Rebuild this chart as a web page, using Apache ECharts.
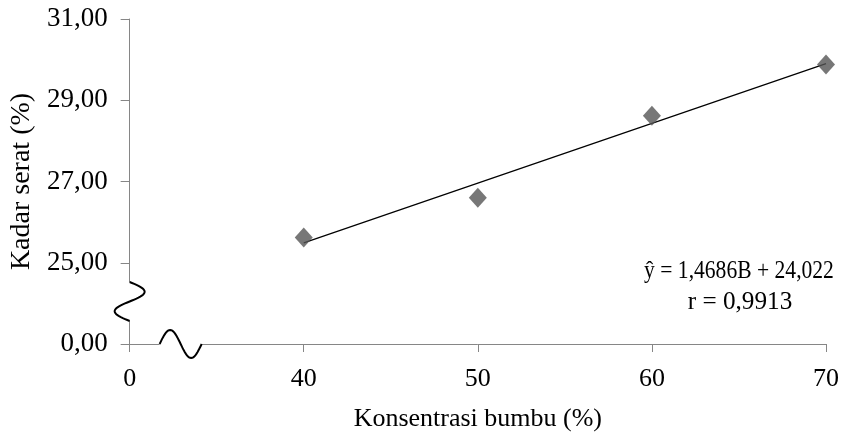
<!DOCTYPE html>
<html><head><meta charset="utf-8">
<script src="https://cdn.jsdelivr.net/npm/echarts@6/dist/echarts.min.js"></script>
<style>html,body{margin:0;padding:0;background:#fff}#c{width:844px;height:437px}</style>
</head><body><div id="c"></div>
<script>
// Data
const concentrations = [40, 50, 60, 70];
const fiberContent = [25.62, 26.60, 28.62, 29.88];
const trendX = [40, 70];
const trendY = [25.49, 29.90];
const xTickLabels = {30: '0', 40: '40', 50: '50', 60: '60', 70: '70'};
const yTickLabels = {23: '0,00', 25: '25,00', 27: '27,00', 29: '29,00', 31: '31,00'};
const equationLine = 'ŷ = 1,4686B + 24,022';
const rLine = 'r = 0,9913';
const xAxisTitle = 'Konsentrasi bumbu (%)';
const yAxisTitle = 'Kadar serat (%)';

const FONT = 'Liberation Serif';
const AXIS = '#868686';

const chart = echarts.init(document.getElementById('c'), null, {renderer: 'canvas'});
chart.setOption({
  animation: false,
  backgroundColor: '#fff',
  grid: {left: 127, right: 18, top: 19, bottom: 93, containLabel: false},
  xAxis: {
    type: 'value', min: 30, max: 70, interval: 10,
    name: xAxisTitle, nameLocation: 'middle', nameGap: 62,
    nameTextStyle: {fontFamily: FONT, fontSize: 26, color: '#000'},
    axisLine: {onZero: false, lineStyle: {color: AXIS, width: 1}},
    axisTick: {show: true, length: 8, lineStyle: {color: AXIS}},
    axisLabel: {fontFamily: FONT, fontSize: 26, color: '#000', margin: 22,
      formatter: v => xTickLabels[v] !== undefined ? xTickLabels[v] : ''},
    splitLine: {show: false}
  },
  yAxis: {
    type: 'value', min: 23, max: 31, interval: 2,
    name: yAxisTitle, nameLocation: 'middle', nameGap: 87, nameRotate: 90,
    nameTextStyle: {fontFamily: FONT, fontSize: 28, color: '#000'},
    axisLine: {onZero: false, lineStyle: {color: AXIS, width: 1}},
    axisTick: {show: true, length: 9, lineStyle: {color: AXIS}},
    axisLabel: {fontFamily: FONT, fontSize: 27, color: '#000', margin: 22,
      formatter: v => yTickLabels[v] !== undefined ? yTickLabels[v] : ''},
    splitLine: {show: false}
  },
  series: [
    {
      type: 'line',
      data: trendX.map((x, i) => [x, trendY[i]]),
      showSymbol: false, symbol: 'none',
      lineStyle: {color: '#000', width: 1.2},
      z: 2
    },
    {
      type: 'scatter',
      data: concentrations.map((x, i) => [x, fiberContent[i]]),
      symbol: 'diamond', symbolSize: [18, 20],
      itemStyle: {color: '#555555'},
      z: 3
    }
  ]
});

// Axis break decorations
const o = chart.convertToPixel({gridIndex: 0}, [30, 23]);
const ox = o[0], oy = o[1];
function wave(fn, n) {
  const pts = [];
  for (let i = 0; i <= n; i++) pts.push(fn(i / n));
  return pts;
}
const yWave = wave(t => [ox + 15 * Math.sin(2 * Math.PI * t), oy - 62 + 39 * t], 40);
const xWave = wave(t => [ox + 30 + 42 * t, oy - 14 * Math.sin(2 * Math.PI * t)], 40);

chart.setOption({
  graphic: [
    {type: 'rect', shape: {x: ox - 3, y: oy - 62, width: 6, height: 39}, style: {fill: '#fff'}, z: 50},
    {type: 'rect', shape: {x: ox + 30, y: oy - 3, width: 42, height: 6}, style: {fill: '#fff'}, z: 50},
    {type: 'polyline', shape: {points: yWave}, style: {stroke: '#000', lineWidth: 2, fill: null}, z: 51},
    {type: 'polyline', shape: {points: xWave}, style: {stroke: '#000', lineWidth: 2, fill: null}, z: 51},
    {type: 'text', x: 739, y: 271, scaleX: 0.83, z: 52,
      style: {text: equationLine, font: '26px "Liberation Serif"', fill: '#000', align: 'center', verticalAlign: 'middle'}},
    {type: 'text', x: 740, y: 302, scaleX: 0.97, z: 52,
      style: {text: rLine, font: '26px "Liberation Serif"', fill: '#000', align: 'center', verticalAlign: 'middle'}}
  ]
});
</script>
</body></html>
